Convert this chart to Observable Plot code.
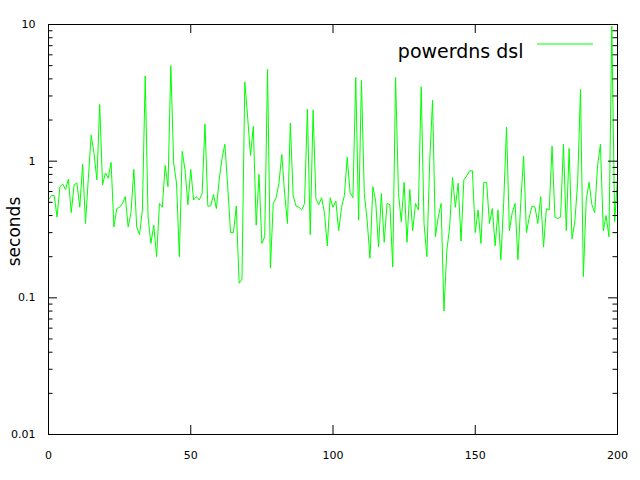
<!DOCTYPE html>
<html>
<head>
<meta charset="utf-8">
<script src="https://cdn.jsdelivr.net/npm/d3@7"></script>
<script src="https://cdn.jsdelivr.net/npm/@observablehq/plot@0.6"></script>
<style>
  html, body { margin: 0; padding: 0; background: #fff; }
  #chart svg { display: block; }
</style>
</head>
<body>
<div id="chart"></div>
<script>
// ---- data ----
const seconds = [
  0.52, 0.56, 0.56, 0.39, 0.65, 0.68, 0.62, 0.74, 0.42, 0.67,
  0.69, 0.46, 0.95, 0.35, 0.75, 1.55, 1.14, 0.73, 2.6, 0.67,
  0.82, 0.75, 0.98, 0.33, 0.45, 0.46, 0.49, 0.55, 0.33, 0.42,
  0.87, 0.33, 0.29, 0.44, 4.2, 0.39, 0.25, 0.34, 0.2, 0.49,
  0.46, 0.93, 0.65, 5.0, 0.97, 0.69, 0.2, 1.18, 0.86, 0.48,
  0.87, 0.52, 0.55, 0.52, 0.58, 1.87, 0.47, 0.47, 0.57, 0.45,
  0.73, 1.05, 1.33, 0.65, 0.30, 0.30, 0.47, 0.128, 0.137, 3.8,
  2.1, 1.1, 1.8, 0.34, 0.8, 0.25, 0.28, 4.7, 0.165, 0.49,
  0.54, 0.69, 1.12, 0.58, 0.35, 1.9, 0.56, 0.47, 0.46, 0.44,
  0.49, 2.4, 0.29, 2.36, 0.53, 0.48, 0.54, 0.42, 0.24, 0.54,
  0.46, 0.51, 0.31, 0.46, 0.56, 1.07, 0.59, 0.54, 4.1, 0.37,
  3.9, 0.58, 0.37, 0.195, 0.65, 0.51, 0.235, 0.58, 0.255, 0.49,
  0.48, 0.168, 4.1, 0.59, 0.36, 0.7, 0.255, 0.62, 0.31, 0.49,
  0.44, 3.5, 0.35, 0.2, 1.0, 2.8, 0.28, 0.39, 0.49, 0.08,
  0.22, 0.33, 0.76, 0.46, 0.69, 0.26, 0.73, 0.78, 0.85, 0.85,
  0.30, 0.44, 0.25, 0.7, 0.7, 0.35, 0.45, 0.24, 0.44, 0.19,
  0.5, 1.78, 0.31, 0.42, 0.49, 0.19, 0.5, 1.09, 0.3, 0.39,
  0.47, 0.46, 0.35, 0.55, 0.235, 0.45, 0.44, 1.29, 0.39, 0.38,
  0.39, 1.33, 0.31, 1.24, 0.27, 0.36, 0.7, 3.35, 0.143, 0.52,
  0.7, 0.48, 0.42, 0.93, 1.33, 0.31, 0.40, 0.28, 9.7, 0.36,
  0.75
];
const xTicks = [0, 50, 100, 150, 200];
const xTickLabels = ["0", "50", "100", "150", "200"];
const yTicks = [0.01, 0.1, 1, 10];
const yTickLabels = ["0.01", "0.1", "1", "10"];
const seriesName = "powerdns dsl";
const yAxisLabel = "seconds";
const lineColor = "#00ff00";

// ---- layout ----
const W = 640, H = 480;
const mL = 48, mR = 23, mT = 24, mB = 46;
const fw = W - mL - mR, fh = H - mT - mB;
const majorLen = 9, minorLen = 4.5;
const font = "DejaVu Sans, sans-serif";

const table = seconds.map((v, i) => ({x: i, y: v}));
const minorY = [];
for (const d of [0.01, 0.1, 1]) for (let k = 2; k <= 9; k++) minorY.push(+(d * k).toPrecision(3));

const chart = Plot.plot({
  width: W, height: H,
  marginLeft: mL, marginRight: mR, marginTop: mT, marginBottom: mB,
  style: {fontFamily: font, background: "#fff", color: "#000"},
  x: {domain: [0, 200], axis: null},
  y: {type: "log", domain: [0.01, 10], axis: null},
  marks: [
    Plot.line(table, {x: "x", y: "y", stroke: lineColor, strokeWidth: 1}),
    // major y ticks (left & right, inward)
    Plot.tickY(yTicks, {y: d => d, insetRight: fw - majorLen, stroke: "#000"}),
    Plot.tickY(yTicks, {y: d => d, insetLeft: fw - majorLen, stroke: "#000"}),
    // minor y ticks
    Plot.tickY(minorY, {y: d => d, insetRight: fw - minorLen, stroke: "#000"}),
    Plot.tickY(minorY, {y: d => d, insetLeft: fw - minorLen, stroke: "#000"}),
    // x ticks (bottom & top, inward)
    Plot.tickX(xTicks, {x: d => d, insetTop: fh - majorLen, stroke: "#000"}),
    Plot.tickX(xTicks, {x: d => d, insetBottom: fh - majorLen, stroke: "#000"}),
    Plot.frame({stroke: "#000", strokeWidth: 1}),
    // tick labels
    Plot.text(yTicks, {y: d => d, text: (d, i) => yTickLabels[i], frameAnchor: "left",
      dx: -13, textAnchor: "end", fontSize: 11, fill: "#000"}),
    Plot.text(xTicks, {x: d => d, text: (d, i) => xTickLabels[i], frameAnchor: "bottom",
      dy: 24, fontSize: 11, fill: "#000"}),
    // y-axis title
    Plot.text([yAxisLabel], {frameAnchor: "left", dx: -34, dy: 2, rotate: -90,
      textAnchor: "middle", fontSize: 17, fill: "#000"}),
    // legend text
    Plot.text([seriesName], {frameAnchor: "top-right", dx: -94, dy: 20,
      textAnchor: "end", fontSize: 19, fill: "#000"})
  ]
});

// legend sample line, placed relative to the frame
const svg = d3.select(chart);
svg.append("line")
  .attr("x1", W - mR - 80).attr("x2", W - mR - 24)
  .attr("y1", mT + 20).attr("y2", mT + 20)
  .attr("stroke", lineColor).attr("stroke-width", 1);

document.getElementById("chart").appendChild(chart);
</script>
</body>
</html>
